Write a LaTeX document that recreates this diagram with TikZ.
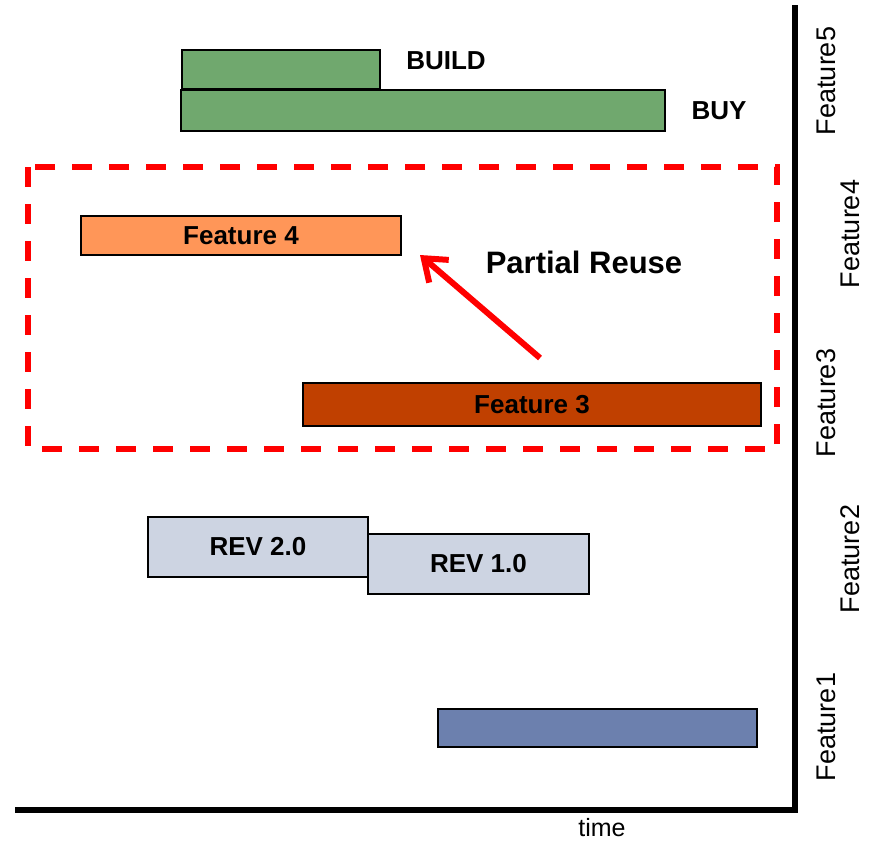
\documentclass[tikz,border=0pt]{standalone}
\usepackage{fontspec}
\setmainfont{Liberation Sans}
\usetikzlibrary{arrows.meta}
\definecolor{grn}{RGB}{112,168,110}
\definecolor{org}{RGB}{255,150,88}
\definecolor{brn}{RGB}{192,64,0}
\definecolor{lav}{RGB}{205,212,226}
\definecolor{blu}{RGB}{108,128,174}
\tikzset{
  bar/.style={draw=black, line width=2pt, anchor=north west, inner sep=0pt, font=\bfseries\fontsize{26}{30}\selectfont},
  lbl/.style={font=\bfseries\fontsize{26}{30}\selectfont, inner sep=0pt},
  axlbl/.style={font=\fontsize{27}{31}\selectfont, inner sep=0pt, rotate=90},
}
\begin{document}
\begin{tikzpicture}[x=1pt,y=-1pt]
\useasboundingbox (0,0) rectangle (871,841);
% bars
\node[bar, fill=grn, minimum width=198pt, minimum height=39pt] (build) at (181,49) {};
\node[bar, fill=grn, minimum width=484pt, minimum height=41pt] (buy) at (180,89) {};
\node[lbl] (buildt) at (446,61) {BUILD};
\node[lbl] (buyt) at (719,111) {BUY};
\node[bar, fill=org, minimum width=320pt, minimum height=39pt] (f4) at (80,215) {Feature 4};
\node[bar, fill=brn, minimum width=458pt, minimum height=43pt] (f3) at (302,382) {Feature 3};
\node[bar, fill=lav, minimum width=220pt, minimum height=60pt] (r2) at (147,516) {REV 2.0};
\node[bar, fill=lav, minimum width=221pt, minimum height=60pt] (r1) at (367,533) {REV 1.0};
\node[bar, fill=blu, minimum width=319pt, minimum height=38pt] (f1) at (437,708) {};
% dashed box
\draw[red, line width=6pt, dash pattern=on 20pt off 17pt] (28,167) rectangle (777,449);
% arrow
\coordinate (as) at (540,358);
\coordinate (ae) at (420,255);
\draw[red, line width=6pt, -{Straight Barb[length=20pt,width=30pt,line width=6pt]}] (as) -- (ae);
\node[font=\bfseries\fontsize{31}{35}\selectfont, inner sep=0pt] (pr) at (584,262) {Partial Reuse};
% axes
\coordinate (top) at (795,5);
\coordinate (corner) at (795,810);
\coordinate (left) at (15,810);
\draw[black, line width=6pt] (top) -- (corner) -- (left);
\node[font=\fontsize{25}{29}\selectfont, inner sep=0pt] (time) at (602,828) {time};
\node[axlbl] (l5) at (826,81) {Feature5};
\node[axlbl] (l4) at (850,234) {Feature4};
\node[axlbl] (l3) at (826,403) {Feature3};
\node[axlbl] (l2) at (850,559) {Feature2};
\node[axlbl] (l1) at (826,727) {Feature1};
\end{tikzpicture}
\end{document}
